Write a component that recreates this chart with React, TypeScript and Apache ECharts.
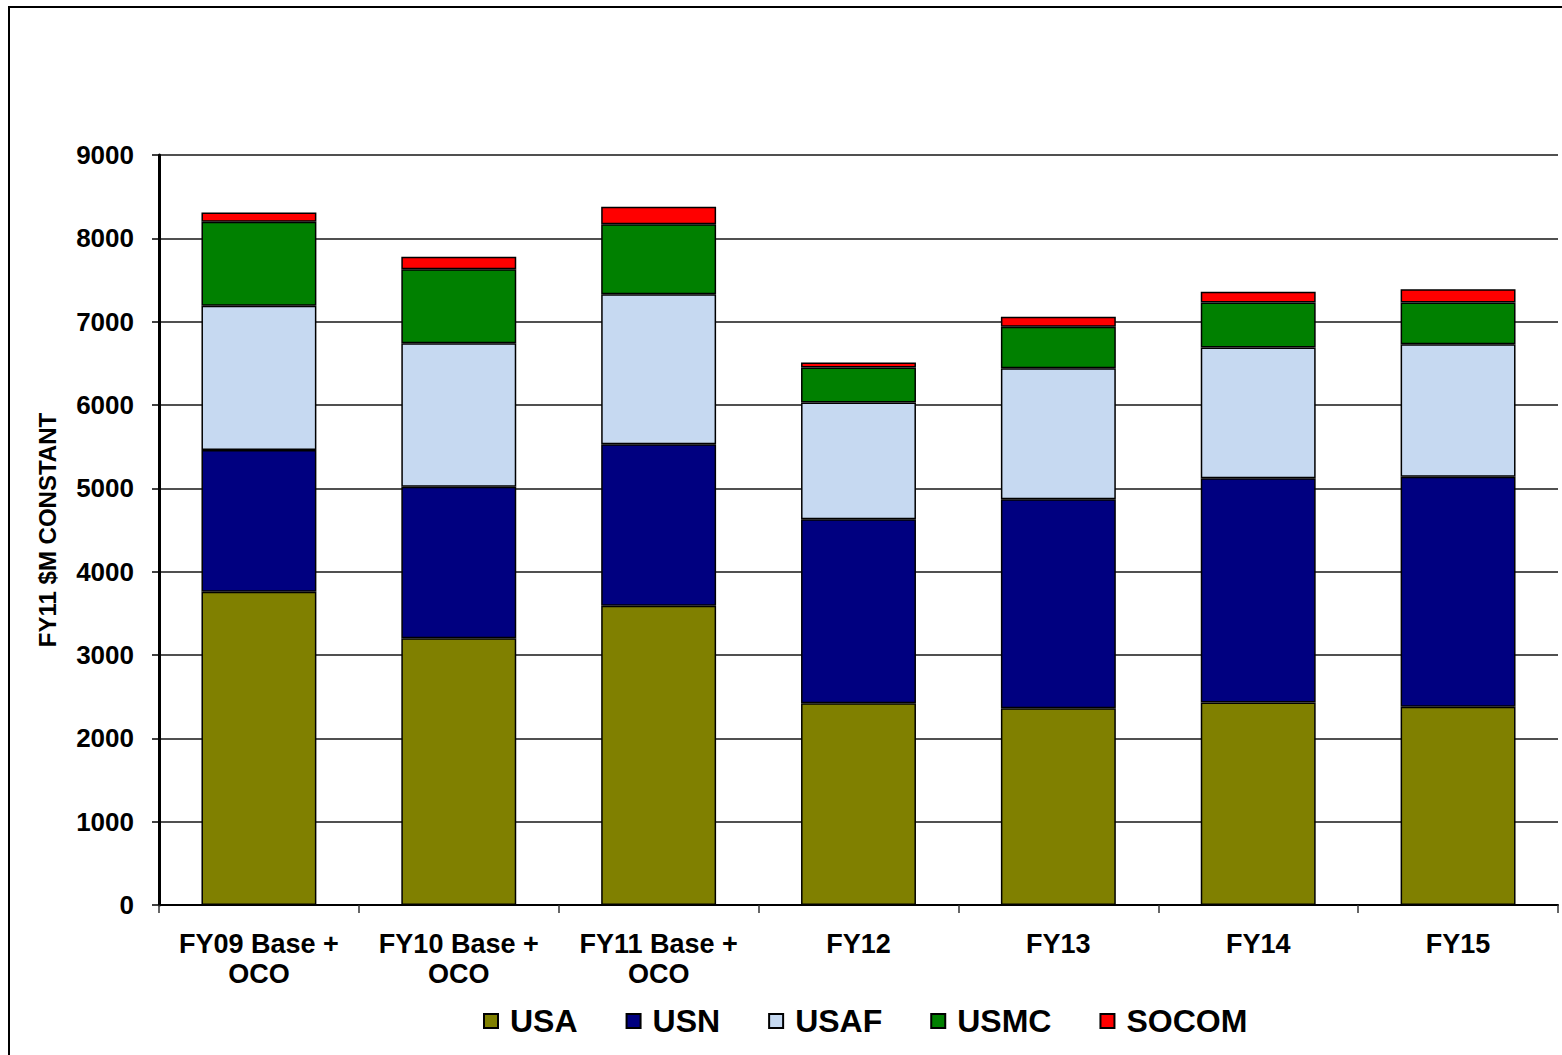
import React, { useEffect, useRef } from "react";
import * as echarts from "echarts";

const categories = [
  "FY09 Base +\nOCO",
  "FY10 Base +\nOCO",
  "FY11 Base +\nOCO",
  "FY12",
  "FY13",
  "FY14",
  "FY15",
];

const seriesNames = ["USA", "USN", "USAF", "USMC", "SOCOM"];
const usa = [3760, 3200, 3590, 2420, 2360, 2430, 2380];
const usn = [1700, 1820, 1940, 2210, 2510, 2690, 2760];
const usaf = [1730, 1720, 1800, 1400, 1570, 1570, 1590];
const usmc = [1010, 890, 840, 420, 500, 540, 500];
const socom = [110, 150, 210, 60, 120, 130, 160];
const colors = ["#808000", "#000080", "#C6D9F1", "#008000", "#FF0000"];

const yMin = 0;
const yMax = 9000;
const yInterval = 1000;

const FONT = "'Liberation Sans', Arial, sans-serif";

export default function App() {
  const ref = useRef<HTMLDivElement>(null);

  useEffect(() => {
    if (!ref.current) return;
    const chart = echarts.init(ref.current, undefined, { renderer: "svg" });
    const values = [usa, usn, usaf, usmc, socom];
    chart.setOption({
      animation: false,
      backgroundColor: "#ffffff",
      textStyle: { fontFamily: FONT },
      graphic: [
        {
          type: "rect",
          shape: { x: 9, y: 7, width: 1580, height: 1080 },
          style: { fill: "none", stroke: "#000", lineWidth: 2 },
          silent: true,
          z: -1,
        },
      ],
      grid: { left: 159, right: 4, top: 155, bottom: 150, containLabel: false },
      legend: {
        data: seriesNames,
        left: 483,
        top: 1005,
        padding: 0,
        itemWidth: 14,
        itemHeight: 14,
        itemGap: 48,
        icon: "rect",
        textStyle: {
          fontFamily: FONT,
          fontWeight: "bold",
          fontSize: 32,
          color: "#000",
          padding: [0, 0, 0, 7],
        },
      },
      xAxis: {
        type: "category",
        data: categories,
        axisLine: { show: true, lineStyle: { color: "#000", width: 2 } },
        axisTick: { show: true, length: 8, lineStyle: { color: "#333", width: 1.5 } },
        axisLabel: {
          fontFamily: FONT,
          fontWeight: "bold",
          fontSize: 27,
          lineHeight: 30,
          color: "#000",
          margin: 24,
          interval: 0,
        },
        splitLine: { show: false },
      },
      yAxis: {
        type: "value",
        min: yMin,
        max: yMax,
        interval: yInterval,
        name: "FY11 $M CONSTANT",
        nameLocation: "middle",
        nameRotate: 90,
        nameGap: 100,
        nameTextStyle: {
          fontFamily: FONT,
          fontWeight: "bold",
          fontSize: 24,
          color: "#000",
        },
        axisLine: { show: true, lineStyle: { color: "#000", width: 3 } },
        axisTick: { show: true, length: 7, lineStyle: { color: "#000", width: 1.5 } },
        axisLabel: {
          fontFamily: FONT,
          fontWeight: "bold",
          fontSize: 26,
          color: "#000",
          margin: 25,
          formatter: (v: number) => String(v),
        },
        splitLine: { show: true, lineStyle: { color: "#505050", width: 2 } },
      },
      series: seriesNames.map((name, i) => ({
        name,
        type: "bar",
        stack: "total",
        data: values[i],
        barWidth: "57.5%",
        itemStyle: { color: colors[i], borderColor: "#000", borderWidth: 1.5 },
      })),
    });
    return () => chart.dispose();
  }, []);

  return (
    <div
      ref={ref}
      style={{ position: "fixed", left: 0, top: 0, width: 1562, height: 1055 }}
    />
  );
}
